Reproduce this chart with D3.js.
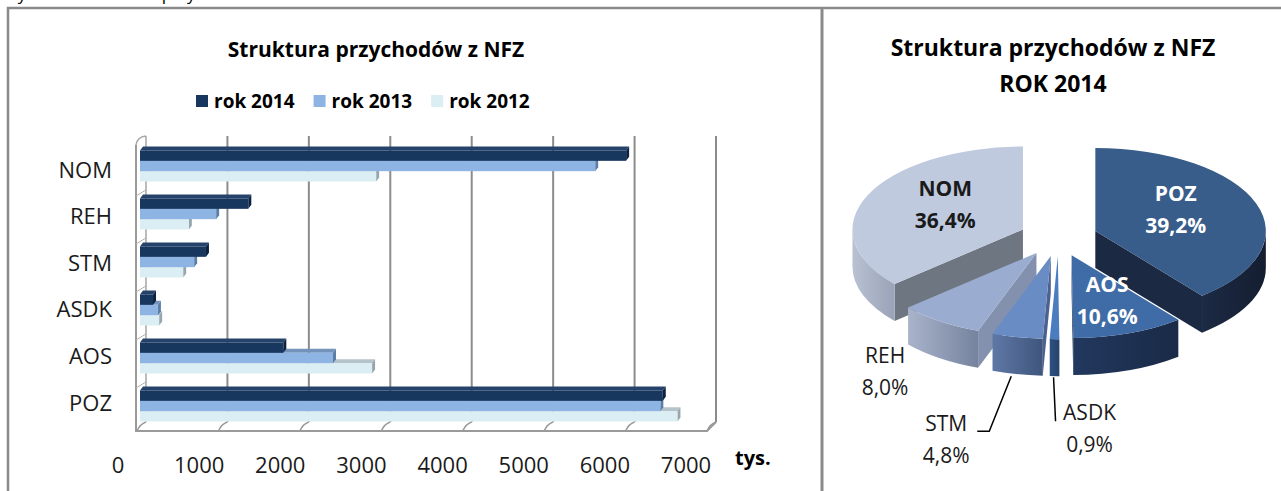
<!DOCTYPE html>
<html>
<head>
<meta charset="utf-8">
<script src="https://cdn.jsdelivr.net/npm/d3@7"></script>
<style>
  body { margin: 0; background: #fff; }
  text { font-family: "Open Sans", "Noto Sans", sans-serif; }
</style>
</head>
<body>
<script>
// dane - wykres słupkowy (tys. zł)
var categories = ["NOM", "REH", "STM", "ASDK", "AOS", "POZ"];
var seriesNames = ["rok 2014", "rok 2013", "rok 2012"];
var values2014 = [5970, 1330, 810, 160, 1760, 6420];
var values2013 = [5590, 935, 665, 220, 2370, 6390];
var values2012 = [2900, 600, 530, 235, 2850, 6600];
var xTicks = [0, 1000, 2000, 3000, 4000, 5000, 6000, 7000];

// dane - wykres kołowy (rok 2014, %)
var pieCategories = ["POZ", "AOS", "ASDK", "STM", "REH", "NOM"];
var pieShares = [39.2, 10.6, 0.9, 4.8, 8.0, 36.4];

var seriesValues = [values2014, values2013, values2012];
var barColors = ["#17375e", "#8db4e2", "#dbeef3"];
var barTops = ["#24426a", "#7393bb", "#b4c2c9"];
var barSides = ["#0d2240", "#5b7da6", "#97a6ae"];

var svg = d3.select("body").append("svg")
    .attr("width", 1281)
    .attr("height", 491);

// ucięty podpis nad ramką
svg.append("text")
    .attr("x", 2).attr("y", 0)
    .style("font-size", "17px")
    .text("Wykres 5. Struktura przychodów z NFZ");

// ramki
svg.append("path")
    .attr("d", "M 8 491 L 8 8 L 1281 8")
    .attr("fill", "none").attr("stroke", "#8a8a8a").attr("stroke-width", 2.5);
svg.append("line")
    .attr("x1", 822).attr("x2", 822).attr("y1", 8).attr("y2", 491)
    .attr("stroke", "#8a8a8a").attr("stroke-width", 3);

// ---------------- wykres słupkowy ----------------
var bar = svg.append("g");

var xBack = d3.scaleLinear().domain([0, 7000]).range([146, 716]);
var xBar = d3.scaleLinear().domain([0, 7000]).range([140, 710]);
var xLab = d3.scaleLinear().domain([0, 7000]).range([118, 686]);
var yBand = d3.scaleBand().domain(categories).range([142, 430])
    .paddingInner(0.354).paddingOuter(0.177);
var ySer = d3.scaleBand().domain(seriesNames).range([0, yBand.bandwidth()]);
var yLab = d3.scalePoint().domain(categories).range([169.5, 402.5]);

var wallTop = 136, floorBack = 422, floorFront = 431, dep = 9;

bar.append("text")
    .attr("x", 376).attr("y", 57)
    .attr("text-anchor", "middle")
    .style("font-size", "21px").style("font-weight", "bold")
    .text("Struktura przychodów z NFZ");

// legenda
var lx = 196;
seriesNames.forEach(function(name, i) {
    bar.append("rect")
        .attr("x", lx).attr("y", 95).attr("width", 12).attr("height", 12)
        .attr("fill", barColors[i]);
    var t = bar.append("text")
        .attr("x", lx + 18).attr("y", 108)
        .style("font-size", "19px").style("font-weight", "bold")
        .text(name);
    lx += 18 + t.node().getComputedTextLength() + 19;
});

// siatka
xTicks.forEach(function(v) {
    bar.append("line")
        .attr("x1", xBack(v)).attr("x2", xBack(v))
        .attr("y1", wallTop).attr("y2", floorBack)
        .attr("stroke", v === 0 ? "#a6a6a6" : "#8c8c8c")
        .attr("stroke-width", v === 0 ? 1.5 : 2);
    bar.append("path")
        .attr("d", "M " + (xBack(v) - dep) + " " + floorFront +
            " Q " + (xBack(v) - 6) + " " + (floorBack + 2) + " " + xBack(v) + " " + floorBack)
        .attr("fill", "none").attr("stroke", "#999").attr("stroke-width", 1.5);
});
// podłoga i lewa ściana
bar.append("path")
    .attr("d", "M " + (xBack(0) - 10) + " " + (wallTop + 9) +
        " L " + (xBack(0) - 10) + " " + floorFront +
        " L " + (xBack(7000) - dep) + " " + floorFront +
        " L " + xBack(7000) + " " + floorBack)
    .attr("fill", "none").attr("stroke", "#9a9a9a").attr("stroke-width", 2);
bar.append("path")
    .attr("d", "M " + (xBack(0) - 10) + " " + (wallTop + 9) +
        " Q " + (xBack(0) - 9) + " " + (wallTop + 1) + " " + xBack(0) + " " + wallTop)
    .attr("fill", "none").attr("stroke", "#a6a6a6").attr("stroke-width", 1.5);
categories.forEach(function(c, i) {
    if (i === 0) return;
    var yy = yBand(c) - yBand.step() * yBand.paddingInner() / 2;
    bar.append("line")
        .attr("x1", xBack(0) - 10).attr("x2", xBack(0))
        .attr("y1", yy + 6).attr("y2", yy)
        .attr("stroke", "#b0b0b0").attr("stroke-width", 1);
});

// słupki 3D
var dx = 3, dy = 4;
categories.forEach(function(c, ci) {
    for (var s = 2; s >= 0; s--) {
        var y = yBand(c) + ySer(seriesNames[s]);
        var h = ySer.bandwidth();
        var x0 = xBar(0), x1 = xBar(seriesValues[s][ci]);
        var g = bar.append("g");
        g.append("path")
            .attr("d", "M " + x0 + " " + y + " L " + (x0 + dx) + " " + (y - dy) +
                " L " + (x1 + dx) + " " + (y - dy) + " L " + x1 + " " + y + " Z")
            .attr("fill", barTops[s]);
        g.append("path")
            .attr("d", "M " + x1 + " " + y + " L " + (x1 + dx) + " " + (y - dy) +
                " L " + (x1 + dx) + " " + (y + h - dy) + " L " + x1 + " " + (y + h) + " Z")
            .attr("fill", barSides[s]);
        g.append("rect")
            .attr("x", x0).attr("y", y)
            .attr("width", x1 - x0).attr("height", h)
            .attr("fill", barColors[s]);
    }
});

// etykiety osi
bar.selectAll(".cat").data(categories).enter().append("text")
    .attr("x", 112).attr("y", function(d) { return yLab(d) + 8; })
    .attr("text-anchor", "end")
    .style("font-size", "22px").attr("fill", "#1a1a1a")
    .text(function(d) { return d; });
bar.selectAll(".tick").data(xTicks).enter().append("text")
    .attr("x", function(d) { return xLab(d); }).attr("y", 473)
    .attr("text-anchor", "middle")
    .style("font-size", "22px").attr("fill", "#1a1a1a")
    .text(function(d) { return d; });
bar.append("text")
    .attr("x", 735).attr("y", 465)
    .style("font-size", "20px").style("font-weight", "bold")
    .text("tys.");

// ---------------- wykres kołowy 3D ----------------
var pieG = svg.append("g");
pieG.append("text")
    .attr("x", 1053).attr("y", 56)
    .attr("text-anchor", "middle")
    .style("font-size", "23px").style("font-weight", "bold")
    .text("Struktura przychodów z NFZ");
pieG.append("text")
    .attr("x", 1053).attr("y", 92)
    .attr("text-anchor", "middle")
    .style("font-size", "23px").style("font-weight", "bold")
    .text("ROK 2014");

var cx = 1058.5, cy = 237.3, rx = 170.5, ry = 82.9, depth = 37, explode = 0.229;
var topColors = ["#395d8a", "#3f6ca6", "#4a7cc0", "#6a8cc4", "#9aaccf", "#bfcadf"];
var wallLight = ["#1c2a44", "#22385e", "#2e5284", "#5e78a6", "#a9b4cb", "#b9c2d3"];
var wallDark = ["#141e31", "#1a2a47", "#24416a", "#3f557c", "#76839e", "#9aa3b7"];
var cutColors = ["#1b2943", "#1d2f4e", "#2a4a74", "#4b6290", "#8391ae", "#6e7682"];
var labelInside = [true, true, false, false, false, true];

var defs = svg.append("defs");
pieCategories.forEach(function(c, i) {
    var gr = defs.append("linearGradient").attr("id", "wall" + i)
        .attr("x1", "0").attr("x2", "1").attr("y1", "0").attr("y2", "0");
    gr.append("stop").attr("offset", "0").attr("stop-color", wallLight[i]);
    gr.append("stop").attr("offset", "1").attr("stop-color", wallDark[i]);
});

var arcs = d3.pie().sort(null)(pieShares);
arcs.forEach(function(a, i) {
    var m = (a.startAngle + a.endAngle) / 2;
    a.mid = m;
    a.ox = explode * rx * Math.sin(m);
    a.oy = -explode * ry * Math.cos(m);
    a.i = i;
});
function pt(a, t, k, down) {
    return [cx + a.ox + k * rx * Math.sin(t), cy + a.oy - k * ry * Math.cos(t) + (down || 0)];
}
function ellArc(p, sweep, large) {
    return " A " + rx + " " + ry + " 0 " + large + " " + sweep + " " + p[0] + " " + p[1];
}

var order = arcs.slice().sort(function(a, b) { return -Math.cos(a.mid) - -Math.cos(b.mid); });
order.forEach(function(a) {
    var i = a.i;
    var g = pieG.append("g");
    var apex = pt(a, 0, 0);
    var cut = [];
    if (Math.sin(a.startAngle) < -1e-6) cut.push(a.startAngle);
    if (Math.sin(a.endAngle) > 1e-6) cut.push(a.endAngle);
    cut.forEach(function(t) {
        var p = pt(a, t, 1);
        g.append("path")
            .attr("d", "M " + apex[0] + " " + apex[1] + " L " + p[0] + " " + p[1] +
                " L " + p[0] + " " + (p[1] + depth) + " L " + apex[0] + " " + (apex[1] + depth) + " Z")
            .attr("fill", cutColors[i]);
    });
    var s = Math.max(a.startAngle, Math.PI / 2), e = Math.min(a.endAngle, 3 * Math.PI / 2);
    if (e > s) {
        var p0 = pt(a, s, 1), p1 = pt(a, e, 1), q1 = pt(a, e, 1, depth), q0 = pt(a, s, 1, depth);
        g.append("path")
            .attr("d", "M " + p0[0] + " " + p0[1] + ellArc(p1, 1, 0) +
                " L " + q1[0] + " " + q1[1] + ellArc(q0, 0, 0) + " Z")
            .attr("fill", "url(#wall" + i + ")");
    }
    var a0 = pt(a, a.startAngle, 1), a1 = pt(a, a.endAngle, 1);
    var large = (a.endAngle - a.startAngle) > Math.PI ? 1 : 0;
    g.append("path")
        .attr("d", "M " + apex[0] + " " + apex[1] + " L " + a0[0] + " " + a0[1] +
            ellArc(a1, 1, large) + " Z")
        .attr("fill", topColors[i]);
});

// etykiety
function pct(v) { return v.toFixed(1).replace(".", ",") + "%"; }
arcs.forEach(function(a) {
    var i = a.i, lines = [pieCategories[i], pct(pieShares[i])];
    var px, py, bold = labelInside[i], fill;
    if (labelInside[i]) {
        var k = pieCategories[i] === "AOS" ? 0.62 : 0.5;
        var p = pt(a, a.mid, k);
        px = p[0]; py = p[1] - (pieCategories[i] === "AOS" ? 12 : 16);
        fill = pieCategories[i] === "NOM" ? "#1a1a1a" : "#fff";
    } else {
        var b = pt(a, a.mid, 1, depth);
        fill = "#1a1a1a";
        if (pieCategories[i] === "REH") { px = b[0] - 55; py = b[1] + 5; }
        if (pieCategories[i] === "STM") {
            px = b[0] - 71; py = b[1] + 57;
            pieG.append("path")
                .attr("d", "M " + (b[0] - 6) + " " + (b[1] + 2) + " L " + (b[0] - 28) + " " + (b[1] + 57) +
                    " L " + (b[0] - 40) + " " + (b[1] + 57))
                .attr("fill", "none").attr("stroke", "#000").attr("stroke-width", 1.5);
        }
        if (pieCategories[i] === "ASDK") {
            px = b[0] + 35; py = b[1] + 44;
            pieG.append("path")
                .attr("d", "M " + (b[0] - 1) + " " + (b[1] + 1) + " L " + (b[0] + 1) + " " + (b[1] + 45))
                .attr("fill", "none").attr("stroke", "#000").attr("stroke-width", 1.5);
        }
    }
    lines.forEach(function(l, j) {
        pieG.append("text")
            .attr("x", px).attr("y", py + j * 32)
            .attr("text-anchor", "middle")
            .style("font-size", "21px")
            .style("font-weight", bold ? "bold" : "normal")
            .attr("fill", fill)
            .text(l);
    });
});
</script>
</body>
</html>
